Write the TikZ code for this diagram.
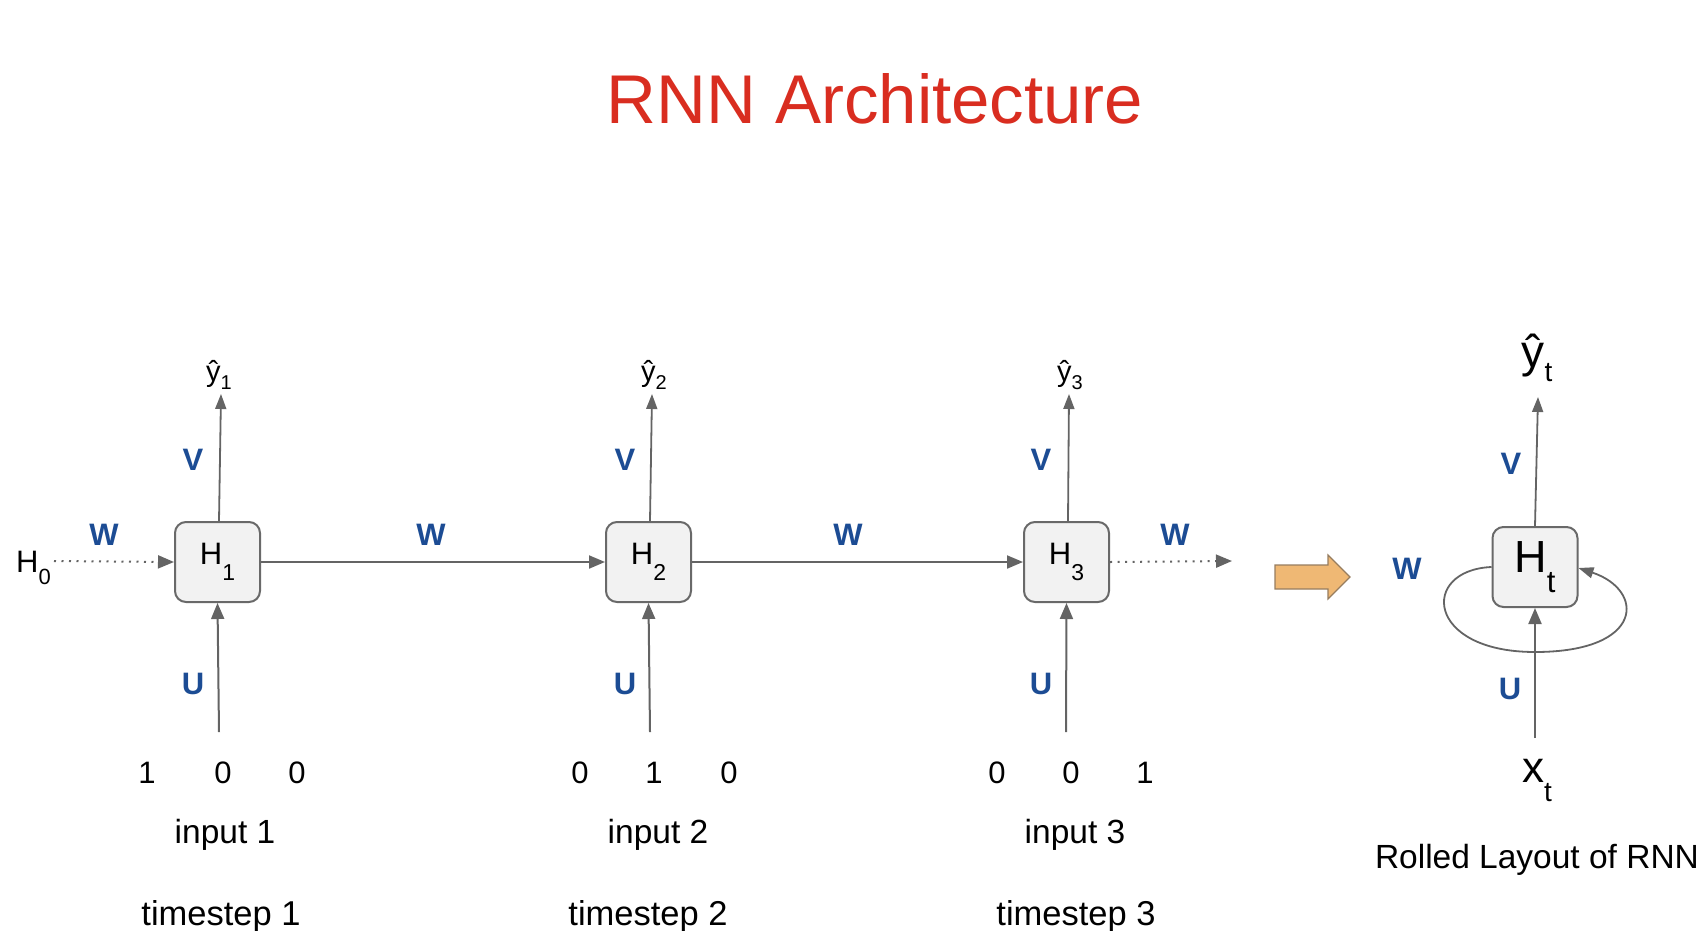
\documentclass[tikz,border=0pt]{standalone}
\usepackage{fontspec}
\setmainfont{Liberation Sans}
\usetikzlibrary{arrows.meta}
\definecolor{titlered}{RGB}{217,45,32}
\definecolor{wblue}{RGB}{28,76,148}
\definecolor{linegray}{RGB}{100,100,100}
\definecolor{boxfill}{RGB}{242,242,242}
\definecolor{boxline}{RGB}{105,105,105}
\definecolor{orangefill}{RGB}{239,184,116}
\definecolor{orangeline}{RGB}{150,125,95}
\newcommand{\fs}[1]{\fontsize{#1}{#1}\selectfont}
\newcommand{\dn}[3]{\raisebox{-#1pt}{\fs{#2}#3}}
\tikzset{
  hbox/.style={draw=boxline, fill=boxfill, line width=2pt, rounded corners=11pt,
    minimum width=85pt, minimum height=80pt, inner sep=0pt, font=\fs{31}},
  hbigbox/.style={hbox, font=\fs{45}},
  conn/.style={draw=linegray, line width=2pt, -{Triangle[length=16pt,width=13pt]}},
  thinconn/.style={draw=linegray, line width=1.8pt, -{Triangle[length=15pt,width=11pt]}},
  dotconn/.style={conn, dash pattern=on 2pt off 5.5pt},
  wlab/.style={text=wblue, font=\fs{31}\bfseries, inner sep=0pt},
  numlab/.style={font=\fs{31}, inner sep=0pt, anchor=base},
  txtlab/.style={font=\fs{33.5}, inner sep=0pt, anchor=base},
  tslab/.style={font=\fs{34.5}, inner sep=0pt, anchor=base},
  ylab/.style={font=\fs{29}, inner sep=0pt, anchor=base},
}
\begin{document}
\begin{tikzpicture}[x=1pt,y=-1pt]
\useasboundingbox (0,0) rectangle (1706,930);
% title
\node[text=titlered, font=\fs{69}, inner sep=0pt, anchor=base] (title) at (875,123) {RNN Architecture};

% hidden boxes
\node[hbox] (H1) at (217.5,562) {H\dn{16}{23}{1}};
\node[hbox] (H2) at (648.5,562) {H\dn{16}{23}{2}};
\node[hbox] (H3) at (1066.5,562) {H\dn{16}{23}{3}};
\node[hbigbox] (Ht) at (1535,567) {H\dn{20}{31}{t}};

% H0
\node[font=\fs{31}, inner sep=0pt, anchor=base west] (H0) at (16,572) {H\dn{12}{22}{0}};
\coordinate (H0e) at (54,561);
\coordinate (H3out) at (1232,561);

% horizontal connectors
\draw[dotconn] (H0e) -- (H1.west);
\draw[conn] (H1.east) -- (H2.west);
\draw[conn] (H2.east) -- (H3.west);
\draw[dotconn] (H3.east) -- (H3out);

% W labels
\node[wlab] (w0) at (104,535) {W};
\node[wlab] (w1) at (431,535) {W};
\node[wlab] (w2) at (848,535) {W};
\node[wlab] (w3) at (1175,535) {W};
\node[wlab] (wt) at (1407,569) {W};

% outputs
\coordinate (o1) at (221,394);
\coordinate (o2) at (652,394);
\coordinate (o3) at (1069,394);
\coordinate (ot) at (1538,397);
\draw[thinconn] ([xshift=1.5pt]H1.north) -- (o1);
\draw[thinconn] ([xshift=1.5pt]H2.north) -- (o2);
\draw[thinconn] ([xshift=1.5pt]H3.north) -- (o3);
\draw[thinconn] (Ht.north) -- (ot);
\node[ylab] (y1) at (219,381) {ŷ\dn{8}{20}{1}};
\node[ylab] (y2) at (654,381) {ŷ\dn{8}{20}{2}};
\node[ylab] (y3) at (1070,381) {ŷ\dn{8}{20}{3}};
\node[font=\fs{46}, inner sep=0pt, anchor=base] (yt) at (1537,367) {ŷ\dn{14}{28}{t}};

% V labels
\node[wlab] (v1) at (193,460) {V};
\node[wlab] (v2) at (625,460) {V};
\node[wlab] (v3) at (1041,460) {V};
\node[wlab] (vt) at (1511,464) {V};

% inputs
\coordinate (i1) at (219,732);
\coordinate (i2) at (650,732);
\coordinate (i3) at (1066,732);
\coordinate (it) at (1535,738);
\draw[conn] (i1) -- (H1.south);
\draw[conn] (i2) -- (H2.south);
\draw[conn] (i3) -- (H3.south);
\draw[conn] (it) -- (Ht.south);

% U labels
\node[wlab] (u1) at (193,684) {U};
\node[wlab] (u2) at (625,684) {U};
\node[wlab] (u3) at (1041,684) {U};
\node[wlab] (ut) at (1510,689) {U};

% recurrent loop
\draw[thinconn] (Ht.west |- 0,567) .. controls (1420,570) and (1425,652) .. (1535,652)
   .. controls (1645,652) and (1645,590) .. (Ht.east |- 0,568);

% orange arrow
\draw[fill=orangefill, draw=orangeline, line width=1.2pt, line join=miter]
  (1275,565) -- (1328,565) -- (1328,555) -- (1350,577) -- (1328,599) -- (1328,589) -- (1275,589) -- cycle;

% one-hot digits
\node[numlab] (a1) at (147,783) {1};
\node[numlab] (a2) at (223,783) {0};
\node[numlab] (a3) at (297,783) {0};
\node[numlab] (b1) at (580,783) {0};
\node[numlab] (b2) at (654,783) {1};
\node[numlab] (b3) at (729,783) {0};
\node[numlab] (c1) at (997,783) {0};
\node[numlab] (c2) at (1071,783) {0};
\node[numlab] (c3) at (1145,783) {1};

% input / timestep labels
\node[txtlab] (in1) at (225,843) {input 1};
\node[txtlab] (in2) at (658,843) {input 2};
\node[txtlab] (in3) at (1075,843) {input 3};
\node[tslab] (ts1) at (221,925) {timestep 1};
\node[tslab] (ts2) at (648,925) {timestep 2};
\node[tslab] (ts3) at (1076,925) {timestep 3};

% rolled x_t and caption
\node[font=\fs{44}, inner sep=0pt, anchor=base] (xt) at (1537,782) {x\dn{19}{28}{t}};
\node[font=\fs{33.5}, inner sep=0pt, anchor=base] (roll) at (1537,868) {Rolled Layout of RNN};
\end{tikzpicture}
\end{document}
